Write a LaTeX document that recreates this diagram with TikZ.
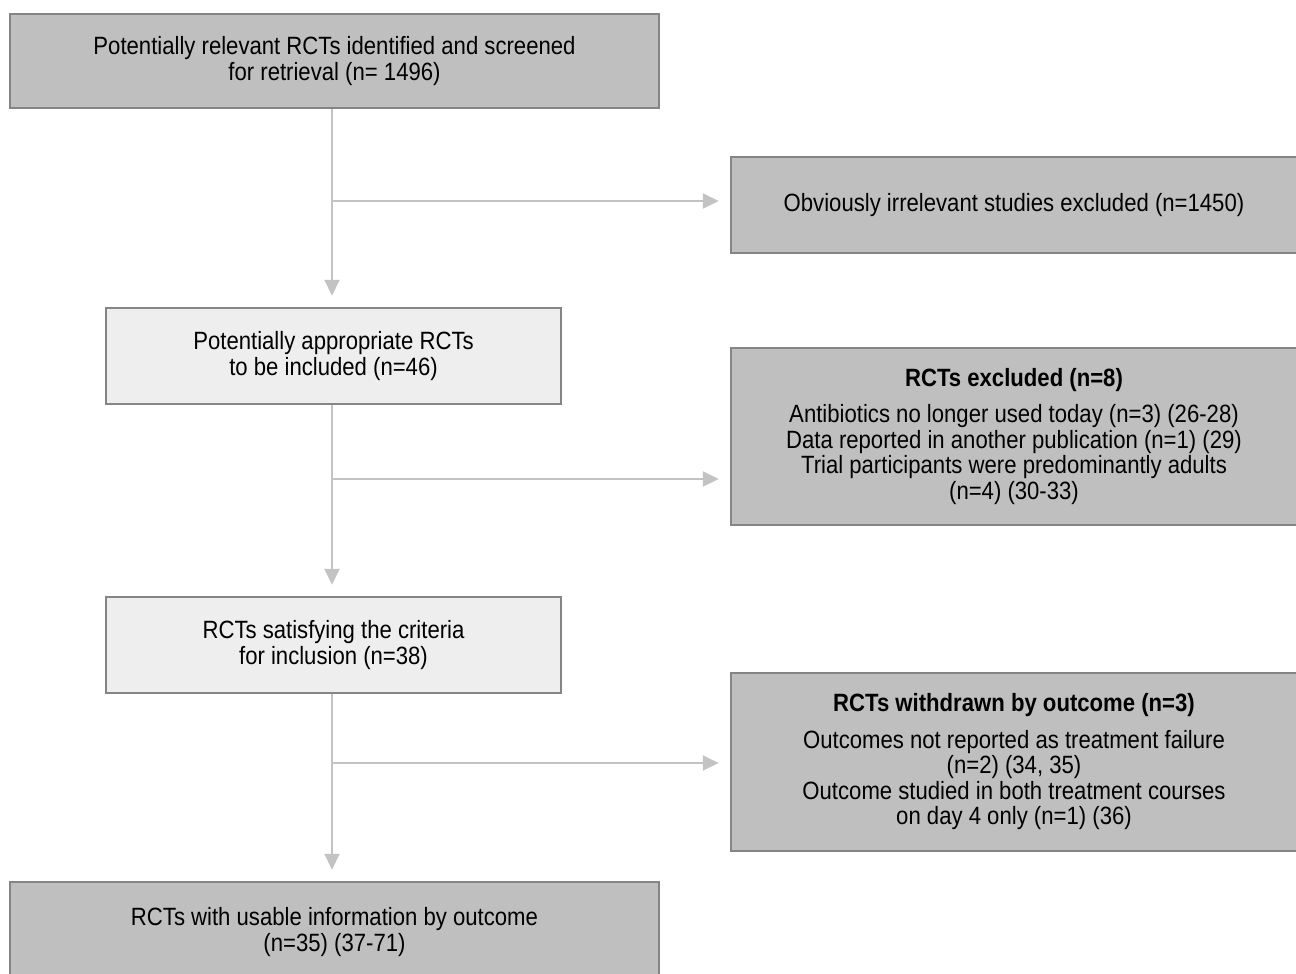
\documentclass[tikz,border=0pt]{standalone}
\usepackage{fontspec}
\setmainfont[FakeStretch=0.885]{Liberation Sans}
\usetikzlibrary{arrows.meta}
\definecolor{boxdark}{HTML}{BFBFBF}
\definecolor{boxlight}{HTML}{EEEEEE}
\definecolor{edgegray}{HTML}{858585}
\definecolor{linegray}{HTML}{C3C3C3}
\tikzset{
  box/.style={draw=edgegray, line width=2.5pt, fill=boxdark, align=center, inner sep=0pt,
    font=\fontsize{25}{25.5}\selectfont},
  lightbox/.style={box, fill=boxlight},
  arr/.style={draw=linegray, line width=2pt, -{Triangle[length=16pt,width=15pt]}, shorten >=11pt},
}
\begin{document}
\begin{tikzpicture}[x=1pt,y=-1pt]
\useasboundingbox (0,0) rectangle (1296,974);
\node[box, minimum width=649pt, minimum height=94pt] (b1) at (334.5,61) {Potentially relevant RCTs identified and screened\\for retrieval (n= 1496)};
\node[box, minimum width=566pt, minimum height=96pt] (b2) at (1014,205) {Obviously irrelevant studies excluded (n=1450)};
\node[lightbox, minimum width=455pt, minimum height=96pt] (b3) at (333.5,356) {Potentially appropriate RCTs\\to be included (n=46)};
\node[box, minimum width=566pt, minimum height=177pt] (b4) at (1014,436.5) {\textbf{RCTs excluded (n=8)}\\[11pt]Antibiotics no longer used today (n=3) (26-28)\\Data reported in another publication (n=1) (29)\\Trial participants were predominantly adults\\(n=4) (30-33)};
\node[lightbox, minimum width=455pt, minimum height=96pt] (b5) at (333.5,645) {RCTs satisfying the criteria\\for inclusion (n=38)};
\node[box, minimum width=566pt, minimum height=178pt] (b6) at (1014,762) {\textbf{RCTs withdrawn by outcome (n=3)}\\[11pt]Outcomes not reported as treatment failure\\(n=2) (34, 35)\\Outcome studied in both treatment courses\\on day 4 only (n=1) (36)};
\node[box, minimum width=649pt, minimum height=100pt] (b7) at (334.5,932) {RCTs with usable information by outcome\\(n=35) (37-71)};
\coordinate (j1) at (332,201);
\coordinate (j2) at (332,479);
\coordinate (j3) at (332,763);
\draw[arr] (b1.south -| j1) -- (j1 |- b3.north);
\draw[arr] (j1) -- (j1 -| b2.west);
\draw[arr] (b3.south -| j2) -- (j2 |- b5.north);
\draw[arr] (j2) -- (j2 -| b4.west);
\draw[arr] (b5.south -| j3) -- (j3 |- b7.north);
\draw[arr] (j3) -- (j3 -| b6.west);
\end{tikzpicture}
\end{document}
